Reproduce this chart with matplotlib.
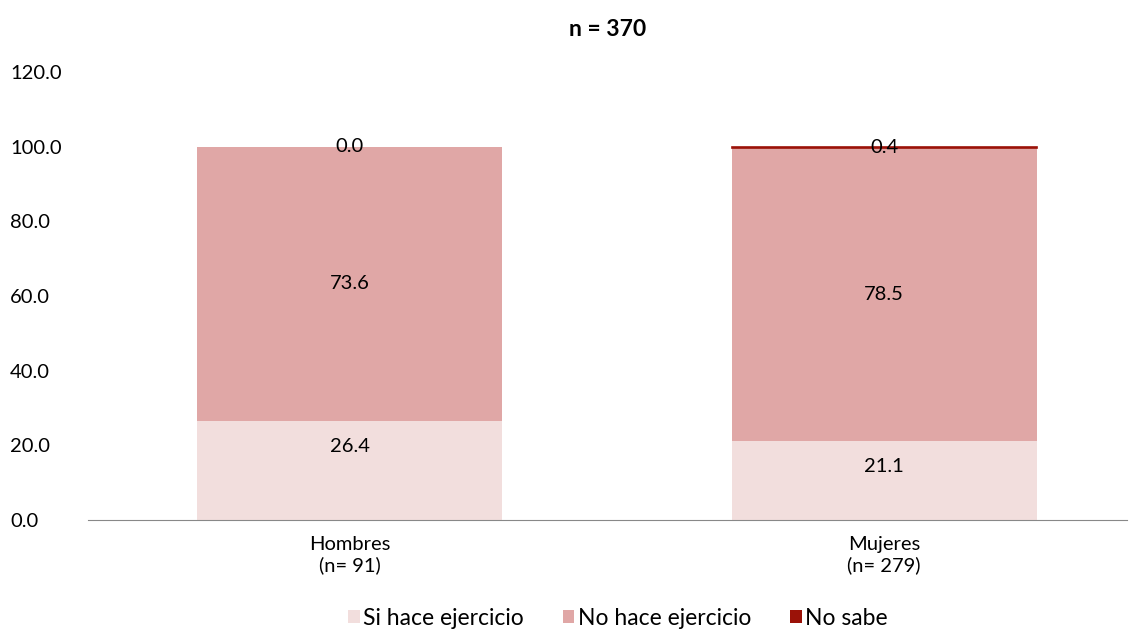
import matplotlib.pyplot as plt
import numpy as np

categorias = ["Hombres\n(n= 91)", "Mujeres\n(n= 279)"]
si_hace = [26.4, 21.1]
no_hace = [73.6, 78.5]
no_sabe = [0.0, 0.4]
series = ["Si hace ejercicio", "No hace ejercicio", "No sabe"]
colores = ["#F2DEDD", "#E0A7A6", "#9B1208"]
yticks = [0, 20, 40, 60, 80, 100, 120]

plt.rcParams['font.family'] = ['Lato', 'DejaVu Sans']

fig = plt.figure(figsize=(11.4, 6.37), dpi=100)
ax = fig.add_axes([0.077, 0.184, 0.912, 0.703])

x = np.arange(len(categorias))
ancho = 0.57
ax.bar(x, si_hace, ancho, color=colores[0], label=series[0])
ax.bar(x, no_hace, ancho, bottom=si_hace, color=colores[1], label=series[1])
base3 = np.array(si_hace) + np.array(no_hace)
barras3 = ax.bar(x, no_sabe, ancho, bottom=base3, color=colores[2], label=series[2])
for b, v in zip(barras3, no_sabe):
    if v > 0:
        b.set_edgecolor(colores[2])
        b.set_linewidth(1.2)

fs = 14.5
for i in range(len(x)):
    ax.text(x[i], si_hace[i] - 6.8, f"{si_hace[i]:.1f}", ha="center", va="center", fontsize=fs)
    ax.text(x[i], si_hace[i] + no_hace[i] / 2, f"{no_hace[i]:.1f}", ha="center", va="center", fontsize=fs)
    ax.text(x[i], base3[i] + no_sabe[i] / 2, f"{no_sabe[i]:.1f}", ha="center", va="center", fontsize=fs)

ax.set_xlim(-0.49, 1.455)
ax.set_ylim(0, 120)
ax.set_yticks(yticks)
ax.set_yticklabels([f"{v:.1f}" for v in yticks], fontsize=fs)
ax.set_xticks(x)
ax.set_xticklabels(categorias, fontsize=fs, linespacing=1.2)
ax.tick_params(axis="x", length=0, pad=12)
ax.tick_params(axis="y", length=0, pad=56)
for lbl in ax.get_yticklabels():
    lbl.set_horizontalalignment("left")
for s in ["top", "right", "left"]:
    ax.spines[s].set_visible(False)
ax.spines["bottom"].set_color("#888888")

ax.set_title("n = 370", fontsize=16.5, fontweight="bold", pad=26)

ax.legend(loc="lower center", bbox_to_anchor=(0.51, -0.29), ncol=3, frameon=False,
          fontsize=16.5, handlelength=0.5, handleheight=0.5, handletextpad=0.15,
          columnspacing=1.7)

fig.savefig("out.png", dpi=100)
